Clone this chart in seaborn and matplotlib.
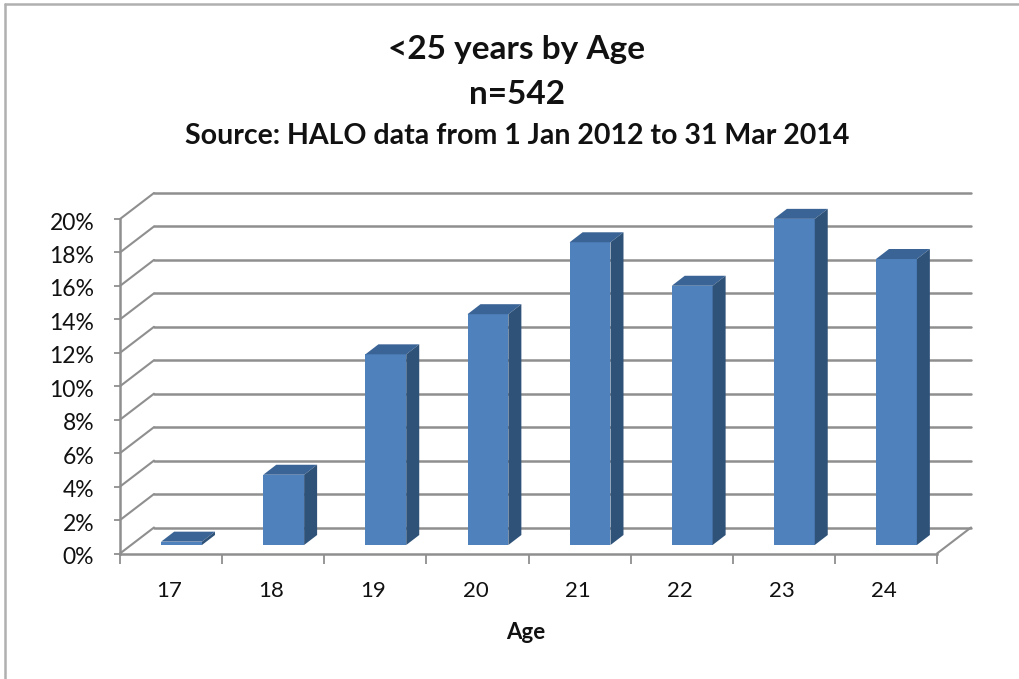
import numpy as np
import pandas as pd
import seaborn as sns
import matplotlib.pyplot as plt
from matplotlib.lines import Line2D
from matplotlib.patches import Polygon
from matplotlib.transforms import Affine2D, IdentityTransform

ages = ['17', '18', '19', '20', '21', '22', '23', '24']
shares = [0.2, 4.2, 11.4, 13.8, 18.1, 15.5, 19.5, 17.1]
y_ticks = [0, 2, 4, 6, 8, 10, 12, 14, 16, 18, 20]

W, H = 1020, 679
GRID = '#8f8f8f'
FRONT = '#4f81bd'
TOP = '#3b6496'
SIDE = '#2f5279'

sns.set_theme(style='white')
plt.rcParams['font.family'] = ['Lato', 'DejaVu Sans']

fig = plt.figure(figsize=(W / 100, H / 100), dpi=100)
# 坐标轴对应三维图的前平面
ax = fig.add_axes([120 / W, (H - 553.5) / H, 817 / W, 334.5 / H])

df = pd.DataFrame({'age': ages, 'share': shares})
sns.barplot(data=df, x='age', y='share', color=FRONT, saturation=1, width=0.4, ax=ax, zorder=3,
            edgecolor='none', linewidth=0)
ax.set_xlim(-0.5, 7.5)
ax.set_ylim(0, 20)

sns.despine(ax=ax, top=True, right=True)
for side in ['left', 'bottom']:
    ax.spines[side].set_color(GRID)
    ax.spines[side].set_linewidth(1.8)

ax.set_yticks(y_ticks)
ax.set_yticklabels([f'{t}%' for t in y_ticks], fontsize=16.5, color='#111111')
ax.set_xticks(np.arange(-0.5, 8), minor=True)
ax.tick_params(axis='x', which='major', length=0, pad=20, labelsize=16, labelcolor='#111111')
ax.tick_params(axis='x', which='minor', bottom=True, length=7, width=1.3, color=GRID)
ax.tick_params(axis='y', left=True, length=4.5, width=1.3, color=GRID, pad=14)
ax.set_xlabel('Age', fontsize=16, fontweight='bold', color='#111111', labelpad=17)
ax.xaxis.set_label_coords(0.497, -0.206)
ax.set_ylabel('')
for label in ax.get_yticklabels():
    label.set_transform(label.get_transform() + Affine2D().translate(0, -2))
for label in ax.get_xticklabels():
    label.set_transform(label.get_transform() + Affine2D().translate(-2, 0))

# 后墙网格线和左侧斜线
DX, DY = 34, 26
back = ax.transData + Affine2D().translate(DX, DY)
for t in y_ticks:
    ax.plot([-0.5, 7.5], [t, t], color=GRID, lw=1.8, transform=back, clip_on=False, zorder=1)
    x0, y0 = ax.transData.transform((-0.5, t))
    fig.add_artist(Line2D([x0, x0 + DX], [y0, y0 + DY], color=GRID, lw=1.5, transform=IdentityTransform()))
x1, y1 = ax.transData.transform((7.5, 0))
fig.add_artist(Line2D([x1, x1 + DX], [y1, y1 + DY], color=GRID, lw=1.5, transform=IdentityTransform()))

# 柱子放在进深中间，再补上顶面和侧面
BX, BY = 10.5, 8.5
DEPTH_X, DEPTH_Y = 13, 10
for bar in ax.patches:
    x, w, h = bar.get_x(), bar.get_width(), bar.get_height()
    l, b = ax.transData.transform((x, 0)) + (BX, BY)
    r, t = ax.transData.transform((x + w, h)) + (BX, BY)
    bar.set_transform(ax.transData + Affine2D().translate(BX, BY))
    bar.set_clip_on(False)
    ax.add_patch(Polygon([(l, t), (r, t), (r + DEPTH_X, t + DEPTH_Y), (l + DEPTH_X, t + DEPTH_Y)],
                         closed=True, facecolor=TOP, edgecolor='none', transform=IdentityTransform(),
                         clip_on=False, zorder=3))
    ax.add_patch(Polygon([(r, b), (r, t), (r + DEPTH_X, t + DEPTH_Y), (r + DEPTH_X, b + DEPTH_Y)],
                         closed=True, facecolor=SIDE, edgecolor='none', transform=IdentityTransform(),
                         clip_on=False, zorder=3))

fig.text(517 / W, 1 - 49 / H, '<25 years by Age', ha='center', va='center', fontsize=24, fontweight='bold', color='#111111')
fig.text(517 / W, 1 - 94 / H, 'n=542', ha='center', va='center', fontsize=24, fontweight='bold', color='#111111')
fig.text(517 / W, 1 - 136 / H, 'Source: HALO data from 1 Jan 2012 to 31 Mar 2014', ha='center', va='center',
         fontsize=20.5, fontweight='bold', color='#111111')

# 外边框只露出上边和左边
fig.add_artist(Line2D([5 / W, 5 / W], [0, 1 - 4 / H], color='#b0b0b0', lw=1.8))
fig.add_artist(Line2D([5 / W, 1], [1 - 4 / H, 1 - 4 / H], color='#b0b0b0', lw=1.8))

fig.savefig('out.png', dpi=100)
